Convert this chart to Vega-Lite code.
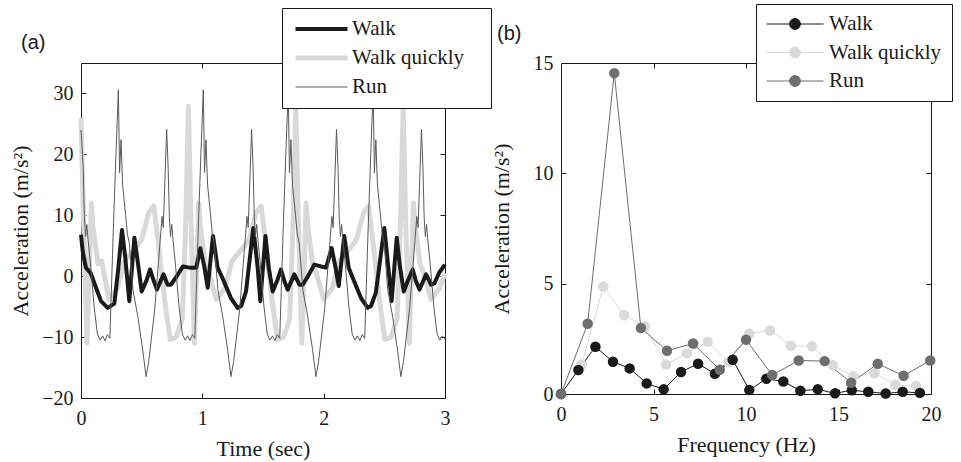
{
  "$schema": "https://vega.github.io/schema/vega-lite/v6.json",
  "background": "white",
  "padding": {"left": 9, "top": 3, "right": 0, "bottom": 5},
  "bounds": "flush",
  "spacing": 116,
  "config": {
    "view": {"stroke": null},
    "axis": {
      "labelFont": "Liberation Serif", "labelFontSize": 20, "labelColor": "#1a1a1a",
      "titleFont": "Liberation Serif", "titleFontSize": 22, "titleFontWeight": "normal", "titleColor": "#1a1a1a",
      "domainColor": "#1a1a1a", "tickColor": "#1a1a1a", "grid": false, "tickSize": -5,
      "labelFlush": false, "labelOverlap": false
    },
    "axisX": {"labelPadding": 15, "titlePadding": 10},
    "axisY": {"labelPadding": 13, "titlePadding": 9},
    "title": {"font": "Liberation Sans", "fontSize": 20, "fontWeight": "normal", "anchor": "start", "frame": "group", "color": "#1a1a1a"}
  },
  "resolve": {"scale": {"color": "independent", "strokeWidth": "independent", "stroke": "independent", "fill": "independent"}, "legend": {"color": "independent", "strokeWidth": "independent", "stroke": "independent", "fill": "independent"}},
  "datasets": {
    "ts": [
      {"s": "Walk", "t": 0, "a": 6.8}, {"s": "Walk", "t": 0.014, "a": 4.1}, {"s": "Walk", "t": 0.04, "a": 1.4}, {"s": "Walk", "t": 0.08, "a": 0.5},
      {"s": "Walk", "t": 0.124, "a": -1.9}, {"s": "Walk", "t": 0.165, "a": -4.1}, {"s": "Walk", "t": 0.22, "a": -5.2}, {"s": "Walk", "t": 0.275, "a": -4.5},
      {"s": "Walk", "t": 0.308, "a": 1.4}, {"s": "Walk", "t": 0.338, "a": 7.6}, {"s": "Walk", "t": 0.365, "a": 3.0}, {"s": "Walk", "t": 0.398, "a": -4.1},
      {"s": "Walk", "t": 0.44, "a": 6.3}, {"s": "Walk", "t": 0.467, "a": 2.5}, {"s": "Walk", "t": 0.5, "a": -2.5}, {"s": "Walk", "t": 0.538, "a": -0.8},
      {"s": "Walk", "t": 0.569, "a": 1.1}, {"s": "Walk", "t": 0.6, "a": -0.8}, {"s": "Walk", "t": 0.626, "a": -2.2}, {"s": "Walk", "t": 0.68, "a": 0.3},
      {"s": "Walk", "t": 0.714, "a": -1.4}, {"s": "Walk", "t": 0.74, "a": -1.4}, {"s": "Walk", "t": 0.78, "a": -0.3}, {"s": "Walk", "t": 0.84, "a": 1.6},
      {"s": "Walk", "t": 0.896, "a": 1.4}, {"s": "Walk", "t": 0.95, "a": 1.4}, {"s": "Walk", "t": 0.983, "a": 4.6}, {"s": "Walk", "t": 1.016, "a": 1.6},
      {"s": "Walk", "t": 1.044, "a": -1.9}, {"s": "Walk", "t": 1.088, "a": 6.6}, {"s": "Walk", "t": 1.126, "a": 1.4}, {"s": "Walk", "t": 1.166, "a": -0.3},
      {"s": "Walk", "t": 1.236, "a": -3.6}, {"s": "Walk", "t": 1.29, "a": -5.2}, {"s": "Walk", "t": 1.32, "a": -4.9}, {"s": "Walk", "t": 1.36, "a": -2.5},
      {"s": "Walk", "t": 1.42, "a": 7.9}, {"s": "Walk", "t": 1.456, "a": 1.4}, {"s": "Walk", "t": 1.478, "a": -4.1}, {"s": "Walk", "t": 1.52, "a": 6.6},
      {"s": "Walk", "t": 1.547, "a": 1.4}, {"s": "Walk", "t": 1.58, "a": -2.5}, {"s": "Walk", "t": 1.616, "a": -0.8}, {"s": "Walk", "t": 1.648, "a": 1.1},
      {"s": "Walk", "t": 1.676, "a": -0.8}, {"s": "Walk", "t": 1.703, "a": -2.2}, {"s": "Walk", "t": 1.758, "a": 0.3}, {"s": "Walk", "t": 1.8, "a": -1.4},
      {"s": "Walk", "t": 1.827, "a": -1.4}, {"s": "Walk", "t": 1.868, "a": -0.1}, {"s": "Walk", "t": 1.923, "a": 1.9}, {"s": "Walk", "t": 1.978, "a": 1.6},
      {"s": "Walk", "t": 2.02, "a": 1.4}, {"s": "Walk", "t": 2.066, "a": 4.6}, {"s": "Walk", "t": 2.096, "a": 1.6}, {"s": "Walk", "t": 2.124, "a": -1.6},
      {"s": "Walk", "t": 2.17, "a": 6.6}, {"s": "Walk", "t": 2.206, "a": 1.4}, {"s": "Walk", "t": 2.24, "a": -0.3}, {"s": "Walk", "t": 2.308, "a": -3.6},
      {"s": "Walk", "t": 2.363, "a": -5.2}, {"s": "Walk", "t": 2.39, "a": -4.9}, {"s": "Walk", "t": 2.43, "a": -2.7}, {"s": "Walk", "t": 2.5, "a": 7.9},
      {"s": "Walk", "t": 2.533, "a": 1.4}, {"s": "Walk", "t": 2.56, "a": -4.1}, {"s": "Walk", "t": 2.602, "a": 6.3}, {"s": "Walk", "t": 2.63, "a": 1.4},
      {"s": "Walk", "t": 2.66, "a": -2.5}, {"s": "Walk", "t": 2.693, "a": -0.8}, {"s": "Walk", "t": 2.734, "a": 1.1}, {"s": "Walk", "t": 2.76, "a": -0.8},
      {"s": "Walk", "t": 2.79, "a": -2.2}, {"s": "Walk", "t": 2.844, "a": 0.3}, {"s": "Walk", "t": 2.885, "a": -1.4}, {"s": "Walk", "t": 2.912, "a": -1.2},
      {"s": "Walk", "t": 2.953, "a": 0.6}, {"s": "Walk", "t": 3.0, "a": 1.9},

      {"s": "Walk quickly", "t": 0, "a": 26}, {"s": "Walk quickly", "t": 0.02, "a": 10}, {"s": "Walk quickly", "t": 0.05, "a": -11}, {"s": "Walk quickly", "t": 0.075, "a": 5},
      {"s": "Walk quickly", "t": 0.085, "a": 12}, {"s": "Walk quickly", "t": 0.1, "a": 8}, {"s": "Walk quickly", "t": 0.14, "a": 2}, {"s": "Walk quickly", "t": 0.17, "a": 2.5},
      {"s": "Walk quickly", "t": 0.23, "a": -3.8}, {"s": "Walk quickly", "t": 0.3, "a": -2}, {"s": "Walk quickly", "t": 0.36, "a": 2.5}, {"s": "Walk quickly", "t": 0.44, "a": 4.4},
      {"s": "Walk quickly", "t": 0.5, "a": 6}, {"s": "Walk quickly", "t": 0.56, "a": 10.5}, {"s": "Walk quickly", "t": 0.6, "a": 11.5}, {"s": "Walk quickly", "t": 0.64, "a": 5},
      {"s": "Walk quickly", "t": 0.69, "a": -4}, {"s": "Walk quickly", "t": 0.735, "a": -10.4}, {"s": "Walk quickly", "t": 0.785, "a": -10}, {"s": "Walk quickly", "t": 0.835, "a": -7},
      {"s": "Walk quickly", "t": 0.865, "a": 10}, {"s": "Walk quickly", "t": 0.885, "a": 27.9}, {"s": "Walk quickly", "t": 0.905, "a": 10}, {"s": "Walk quickly", "t": 0.935, "a": -11},
      {"s": "Walk quickly", "t": 0.96, "a": 5}, {"s": "Walk quickly", "t": 0.97, "a": 12}, {"s": "Walk quickly", "t": 0.985, "a": 8}, {"s": "Walk quickly", "t": 1.025, "a": 2},
      {"s": "Walk quickly", "t": 1.055, "a": 0.5}, {"s": "Walk quickly", "t": 1.115, "a": -3.8}, {"s": "Walk quickly", "t": 1.185, "a": -2}, {"s": "Walk quickly", "t": 1.245, "a": 2.5},
      {"s": "Walk quickly", "t": 1.325, "a": 4.4}, {"s": "Walk quickly", "t": 1.385, "a": 6}, {"s": "Walk quickly", "t": 1.445, "a": 10.5}, {"s": "Walk quickly", "t": 1.485, "a": 11.5},
      {"s": "Walk quickly", "t": 1.525, "a": 5}, {"s": "Walk quickly", "t": 1.575, "a": -4}, {"s": "Walk quickly", "t": 1.62, "a": -10.4}, {"s": "Walk quickly", "t": 1.67, "a": -10},
      {"s": "Walk quickly", "t": 1.72, "a": -7}, {"s": "Walk quickly", "t": 1.75, "a": 10}, {"s": "Walk quickly", "t": 1.77, "a": 27.9}, {"s": "Walk quickly", "t": 1.79, "a": 10},
      {"s": "Walk quickly", "t": 1.82, "a": -11}, {"s": "Walk quickly", "t": 1.845, "a": 5}, {"s": "Walk quickly", "t": 1.855, "a": 12}, {"s": "Walk quickly", "t": 1.87, "a": 8},
      {"s": "Walk quickly", "t": 1.91, "a": 2}, {"s": "Walk quickly", "t": 1.94, "a": 0.5}, {"s": "Walk quickly", "t": 2.0, "a": -3.8}, {"s": "Walk quickly", "t": 2.07, "a": -2},
      {"s": "Walk quickly", "t": 2.13, "a": 2.5}, {"s": "Walk quickly", "t": 2.21, "a": 4.4}, {"s": "Walk quickly", "t": 2.27, "a": 6}, {"s": "Walk quickly", "t": 2.33, "a": 10.5},
      {"s": "Walk quickly", "t": 2.37, "a": 11.5}, {"s": "Walk quickly", "t": 2.41, "a": 5}, {"s": "Walk quickly", "t": 2.46, "a": -4}, {"s": "Walk quickly", "t": 2.505, "a": -10.4},
      {"s": "Walk quickly", "t": 2.555, "a": -10}, {"s": "Walk quickly", "t": 2.605, "a": -7}, {"s": "Walk quickly", "t": 2.635, "a": 10}, {"s": "Walk quickly", "t": 2.655, "a": 27.9},
      {"s": "Walk quickly", "t": 2.675, "a": 10}, {"s": "Walk quickly", "t": 2.705, "a": -11}, {"s": "Walk quickly", "t": 2.73, "a": 5}, {"s": "Walk quickly", "t": 2.74, "a": 12},
      {"s": "Walk quickly", "t": 2.755, "a": 8}, {"s": "Walk quickly", "t": 2.795, "a": 2}, {"s": "Walk quickly", "t": 2.825, "a": 0.5}, {"s": "Walk quickly", "t": 2.885, "a": -3.8},
      {"s": "Walk quickly", "t": 2.955, "a": -2}, {"s": "Walk quickly", "t": 3.0, "a": 0.5},

      {"s": "Run", "t": 0, "a": 24.0}, {"s": "Run", "t": 0.018, "a": 18}, {"s": "Run", "t": 0.028, "a": 9.8}, {"s": "Run", "t": 0.038, "a": 6.5},
      {"s": "Run", "t": 0.048, "a": 8.5}, {"s": "Run", "t": 0.058, "a": 6}, {"s": "Run", "t": 0.078, "a": 2}, {"s": "Run", "t": 0.108, "a": -5},
      {"s": "Run", "t": 0.135, "a": -9.5}, {"s": "Run", "t": 0.158, "a": -10.5}, {"s": "Run", "t": 0.178, "a": -9.8}, {"s": "Run", "t": 0.198, "a": -10.6},
      {"s": "Run", "t": 0.218, "a": -9.6}, {"s": "Run", "t": 0.238, "a": -10.2}, {"s": "Run", "t": 0.268, "a": 8.7}, {"s": "Run", "t": 0.288, "a": 20},
      {"s": "Run", "t": 0.308, "a": 30.6}, {"s": "Run", "t": 0.318, "a": 17}, {"s": "Run", "t": 0.33, "a": 22.4}, {"s": "Run", "t": 0.343, "a": 15},
      {"s": "Run", "t": 0.368, "a": 10}, {"s": "Run", "t": 0.383, "a": 6.8}, {"s": "Run", "t": 0.398, "a": 5.5}, {"s": "Run", "t": 0.428, "a": -2.2},
      {"s": "Run", "t": 0.468, "a": -6.6}, {"s": "Run", "t": 0.508, "a": -12}, {"s": "Run", "t": 0.536, "a": -16.5}, {"s": "Run", "t": 0.558, "a": -14},
      {"s": "Run", "t": 0.608, "a": -5.4}, {"s": "Run", "t": 0.638, "a": 2.2}, {"s": "Run", "t": 0.668, "a": 9.8}, {"s": "Run", "t": 0.678, "a": 8},
      {"s": "Run", "t": 0.706, "a": 24.1}, {"s": "Run", "t": 0.718, "a": 18}, {"s": "Run", "t": 0.728, "a": 9.8}, {"s": "Run", "t": 0.738, "a": 6.5},
      {"s": "Run", "t": 0.748, "a": 8.5}, {"s": "Run", "t": 0.758, "a": 6}, {"s": "Run", "t": 0.778, "a": 2}, {"s": "Run", "t": 0.808, "a": -5},
      {"s": "Run", "t": 0.835, "a": -9.5}, {"s": "Run", "t": 0.858, "a": -10.5}, {"s": "Run", "t": 0.878, "a": -9.8}, {"s": "Run", "t": 0.898, "a": -10.6},
      {"s": "Run", "t": 0.918, "a": -9.6}, {"s": "Run", "t": 0.938, "a": -10.2}, {"s": "Run", "t": 0.968, "a": 8.7}, {"s": "Run", "t": 0.988, "a": 20},
      {"s": "Run", "t": 1.008, "a": 30.6}, {"s": "Run", "t": 1.018, "a": 17}, {"s": "Run", "t": 1.03, "a": 22.4}, {"s": "Run", "t": 1.043, "a": 15},
      {"s": "Run", "t": 1.068, "a": 10}, {"s": "Run", "t": 1.083, "a": 6.8}, {"s": "Run", "t": 1.098, "a": 5.5}, {"s": "Run", "t": 1.128, "a": -2.2},
      {"s": "Run", "t": 1.168, "a": -6.6}, {"s": "Run", "t": 1.208, "a": -12}, {"s": "Run", "t": 1.236, "a": -16.5}, {"s": "Run", "t": 1.258, "a": -14},
      {"s": "Run", "t": 1.308, "a": -5.4}, {"s": "Run", "t": 1.338, "a": 2.2}, {"s": "Run", "t": 1.368, "a": 9.8}, {"s": "Run", "t": 1.378, "a": 8},
      {"s": "Run", "t": 1.406, "a": 24.1}, {"s": "Run", "t": 1.418, "a": 18}, {"s": "Run", "t": 1.428, "a": 9.8}, {"s": "Run", "t": 1.438, "a": 6.5},
      {"s": "Run", "t": 1.448, "a": 8.5}, {"s": "Run", "t": 1.458, "a": 6}, {"s": "Run", "t": 1.478, "a": 2}, {"s": "Run", "t": 1.508, "a": -5},
      {"s": "Run", "t": 1.535, "a": -9.5}, {"s": "Run", "t": 1.558, "a": -10.5}, {"s": "Run", "t": 1.578, "a": -9.8}, {"s": "Run", "t": 1.598, "a": -10.6},
      {"s": "Run", "t": 1.618, "a": -9.6}, {"s": "Run", "t": 1.638, "a": -10.2}, {"s": "Run", "t": 1.668, "a": 8.7}, {"s": "Run", "t": 1.688, "a": 20},
      {"s": "Run", "t": 1.708, "a": 30.6}, {"s": "Run", "t": 1.718, "a": 17}, {"s": "Run", "t": 1.73, "a": 22.4}, {"s": "Run", "t": 1.743, "a": 15},
      {"s": "Run", "t": 1.768, "a": 10}, {"s": "Run", "t": 1.783, "a": 6.8}, {"s": "Run", "t": 1.798, "a": 5.5}, {"s": "Run", "t": 1.828, "a": -2.2},
      {"s": "Run", "t": 1.868, "a": -6.6}, {"s": "Run", "t": 1.908, "a": -12}, {"s": "Run", "t": 1.936, "a": -16.5}, {"s": "Run", "t": 1.958, "a": -14},
      {"s": "Run", "t": 2.008, "a": -5.4}, {"s": "Run", "t": 2.038, "a": 2.2}, {"s": "Run", "t": 2.068, "a": 9.8}, {"s": "Run", "t": 2.078, "a": 8},
      {"s": "Run", "t": 2.106, "a": 24.1}, {"s": "Run", "t": 2.118, "a": 18}, {"s": "Run", "t": 2.128, "a": 9.8}, {"s": "Run", "t": 2.138, "a": 6.5},
      {"s": "Run", "t": 2.148, "a": 8.5}, {"s": "Run", "t": 2.158, "a": 6}, {"s": "Run", "t": 2.178, "a": 2}, {"s": "Run", "t": 2.208, "a": -5},
      {"s": "Run", "t": 2.235, "a": -9.5}, {"s": "Run", "t": 2.258, "a": -10.5}, {"s": "Run", "t": 2.278, "a": -9.8}, {"s": "Run", "t": 2.298, "a": -10.6},
      {"s": "Run", "t": 2.318, "a": -9.6}, {"s": "Run", "t": 2.338, "a": -10.2}, {"s": "Run", "t": 2.368, "a": 8.7}, {"s": "Run", "t": 2.388, "a": 20},
      {"s": "Run", "t": 2.408, "a": 30.6}, {"s": "Run", "t": 2.418, "a": 17}, {"s": "Run", "t": 2.43, "a": 22.4}, {"s": "Run", "t": 2.443, "a": 15},
      {"s": "Run", "t": 2.468, "a": 10}, {"s": "Run", "t": 2.483, "a": 6.8}, {"s": "Run", "t": 2.498, "a": 5.5}, {"s": "Run", "t": 2.528, "a": -2.2},
      {"s": "Run", "t": 2.568, "a": -6.6}, {"s": "Run", "t": 2.608, "a": -12}, {"s": "Run", "t": 2.636, "a": -16.5}, {"s": "Run", "t": 2.658, "a": -14},
      {"s": "Run", "t": 2.708, "a": -5.4}, {"s": "Run", "t": 2.738, "a": 2.2}, {"s": "Run", "t": 2.768, "a": 9.8}, {"s": "Run", "t": 2.778, "a": 8},
      {"s": "Run", "t": 2.806, "a": 24.1}, {"s": "Run", "t": 2.818, "a": 18}, {"s": "Run", "t": 2.828, "a": 9.8}, {"s": "Run", "t": 2.838, "a": 6.5},
      {"s": "Run", "t": 2.848, "a": 8.5}, {"s": "Run", "t": 2.858, "a": 6}, {"s": "Run", "t": 2.878, "a": 2}, {"s": "Run", "t": 2.908, "a": -5},
      {"s": "Run", "t": 2.935, "a": -9.5}, {"s": "Run", "t": 2.958, "a": -10.5}, {"s": "Run", "t": 2.978, "a": -9.8}, {"s": "Run", "t": 3.0, "a": -10.4}
    ],
    "fft": [
      {"s": "Walk quickly", "f": 0, "a": 0}, {"s": "Walk quickly", "f": 1.12, "a": 1.34}, {"s": "Walk quickly", "f": 2.29, "a": 4.87}, {"s": "Walk quickly", "f": 3.42, "a": 3.57},
      {"s": "Walk quickly", "f": 4.54, "a": 3.06}, {"s": "Walk quickly", "f": 5.68, "a": 1.34}, {"s": "Walk quickly", "f": 6.81, "a": 1.84}, {"s": "Walk quickly", "f": 7.93, "a": 2.37},
      {"s": "Walk quickly", "f": 9.06, "a": 1.45}, {"s": "Walk quickly", "f": 10.18, "a": 2.73}, {"s": "Walk quickly", "f": 11.3, "a": 2.88}, {"s": "Walk quickly", "f": 12.43, "a": 2.19},
      {"s": "Walk quickly", "f": 13.57, "a": 2.16}, {"s": "Walk quickly", "f": 14.69, "a": 1.3}, {"s": "Walk quickly", "f": 15.8, "a": 0.8}, {"s": "Walk quickly", "f": 16.94, "a": 0.94},
      {"s": "Walk quickly", "f": 18.07, "a": 0.42}, {"s": "Walk quickly", "f": 19.19, "a": 0.36},
      {"s": "Walk", "f": 0, "a": 0}, {"s": "Walk", "f": 0.94, "a": 1.09}, {"s": "Walk", "f": 1.86, "a": 2.14}, {"s": "Walk", "f": 2.81, "a": 1.46},
      {"s": "Walk", "f": 3.71, "a": 1.16}, {"s": "Walk", "f": 4.63, "a": 0.48}, {"s": "Walk", "f": 5.55, "a": 0.21}, {"s": "Walk", "f": 6.49, "a": 1.0},
      {"s": "Walk", "f": 7.41, "a": 1.37}, {"s": "Walk", "f": 8.32, "a": 0.92}, {"s": "Walk", "f": 9.28, "a": 1.55}, {"s": "Walk", "f": 10.18, "a": 0.18},
      {"s": "Walk", "f": 11.1, "a": 0.69}, {"s": "Walk", "f": 12.02, "a": 0.57}, {"s": "Walk", "f": 12.94, "a": 0.15}, {"s": "Walk", "f": 13.88, "a": 0.21},
      {"s": "Walk", "f": 14.81, "a": 0.03}, {"s": "Walk", "f": 15.72, "a": 0.17}, {"s": "Walk", "f": 16.61, "a": 0.1}, {"s": "Walk", "f": 17.55, "a": 0.02},
      {"s": "Walk", "f": 18.47, "a": 0.1}, {"s": "Walk", "f": 19.4, "a": 0.05},
      {"s": "Run", "f": 0, "a": 0}, {"s": "Run", "f": 1.44, "a": 3.18}, {"s": "Run", "f": 2.88, "a": 14.54}, {"s": "Run", "f": 4.32, "a": 2.99},
      {"s": "Run", "f": 5.73, "a": 1.96}, {"s": "Run", "f": 7.14, "a": 2.29}, {"s": "Run", "f": 8.58, "a": 1.1}, {"s": "Run", "f": 10.0, "a": 2.46},
      {"s": "Run", "f": 11.42, "a": 0.86}, {"s": "Run", "f": 12.85, "a": 1.52}, {"s": "Run", "f": 14.25, "a": 1.49}, {"s": "Run", "f": 15.68, "a": 0.51},
      {"s": "Run", "f": 17.12, "a": 1.37}, {"s": "Run", "f": 18.52, "a": 0.83}, {"s": "Run", "f": 19.96, "a": 1.52}
    ]
  },
  "hconcat": [
    {
      "width": 364, "height": 335,
      "title": {"text": "(a)", "dx": -60, "offset": -45},
      "data": {"name": "ts"},
      "resolve": {"axis": {"x": "independent", "y": "independent"}},
      "encoding": {
        "color": {"field": "s", "type": "nominal",
          "scale": {"domain": ["Walk", "Walk quickly", "Run"], "range": ["#1a1a1a", "#d9d9d9", "#5a5a5a"]},
          "legend": {"orient": "none", "legendX": 201, "legendY": -55, "title": null, "symbolType": "M-1,0L1,0", "symbolSize": 2704, "clipHeight": 20,
            "labelFont": "Liberation Serif", "labelFontSize": 21, "labelColor": "#1a1a1a", "labelOffset": 2, "padding": 11,
            "labelExpr": "datum.label + '\u2800'",
            "strokeColor": "#1a1a1a", "fillColor": "white", "rowPadding": 8}},
        "strokeWidth": {"field": "s", "type": "nominal",
          "scale": {"type": "ordinal", "domain": ["Walk", "Walk quickly", "Run"], "range": [4, 5, 1]},
          "legend": {"orient": "none", "legendX": 201, "legendY": -55, "title": null, "symbolType": "M-1,0L1,0", "symbolSize": 2704, "clipHeight": 20,
            "labelFont": "Liberation Serif", "labelFontSize": 21, "labelColor": "#1a1a1a", "labelOffset": 2, "padding": 11,
            "labelExpr": "datum.label + '\u2800'",
            "strokeColor": "#1a1a1a", "fillColor": "white", "rowPadding": 8}}
      },
      "layer": [
        {
          "transform": [{"filter": "datum.s === 'Walk quickly'"}],
          "mark": {"type": "line", "strokeJoin": "round"},
          "encoding": {
            "x": {"field": "t", "type": "quantitative", "scale": {"domain": [0, 3], "nice": false},
              "axis": {"title": "Time (sec)", "values": [0, 1, 2, 3]}},
            "y": {"field": "a", "type": "quantitative", "scale": {"domain": [-20, 35], "nice": false, "zero": false},
              "axis": {"title": "Acceleration (m/s²)", "values": [-20, -10, 0, 10, 20, 30]}}
          }
        },
        {
          "transform": [{"filter": "datum.s === 'Walk'"}],
          "mark": {"type": "line", "strokeJoin": "round"},
          "encoding": {
            "x": {"field": "t", "type": "quantitative", "axis": null},
            "y": {"field": "a", "type": "quantitative", "axis": null}
          }
        },
        {
          "transform": [{"filter": "datum.s === 'Run'"}],
          "mark": {"type": "line"},
          "encoding": {
            "x": {"field": "t", "type": "quantitative", "axis": {"orient": "top", "labels": false, "title": null, "values": [0, 1, 2, 3]}},
            "y": {"field": "a", "type": "quantitative", "axis": {"orient": "right", "labels": false, "title": null, "values": [-20, -10, 0, 10, 20, 30]}}
          }
        }
      ]
    },
    {
      "width": 370, "height": 331,
      "title": {"text": "(b)", "dx": -64, "offset": -40},
      "data": {"name": "fft"},
      "resolve": {"axis": {"x": "independent", "y": "independent"}},
      "layer": [
        {
          "mark": {"type": "line", "strokeWidth": 1},
          "encoding": {
            "x": {"field": "f", "type": "quantitative", "scale": {"domain": [0, 20], "nice": false},
              "axis": {"title": "Frequency (Hz)", "values": [0, 5, 10, 15, 20]}},
            "y": {"field": "a", "type": "quantitative", "scale": {"domain": [0, 15], "nice": false},
              "axis": {"title": "Acceleration (m/s²)", "values": [0, 5, 10, 15], "titlePadding": 20}},
            "stroke": {"field": "s", "type": "nominal",
              "scale": {"domain": ["Walk", "Walk quickly", "Run"], "range": ["#1a1a1a", "#dadada", "#6e6e6e"]},
              "legend": {"orient": "none", "legendX": 195, "legendY": -59, "title": null,
                "symbolType": "M-1,0L1,0M0.19,0A0.19,0.19,0,1,1,-0.19,0A0.19,0.19,0,1,1,0.19,0Z",
                "symbolSize": 3249, "symbolStrokeWidth": 1, "clipHeight": 20,
                "labelFont": "Liberation Serif", "labelFontSize": 21, "labelColor": "#1a1a1a", "labelOffset": 5, "padding": 10,
                "strokeColor": "#1a1a1a", "fillColor": "white", "rowPadding": 7.5}}
          }
        },
        {
          "mark": {"type": "point", "filled": true, "size": 110, "opacity": 1, "strokeWidth": 0},
          "encoding": {
            "x": {"field": "f", "type": "quantitative", "axis": {"orient": "top", "labels": false, "title": null, "values": [0, 5, 10, 15, 20]}},
            "y": {"field": "a", "type": "quantitative", "axis": {"orient": "right", "labels": false, "title": null, "values": [0, 5, 10, 15]}},
            "fill": {"field": "s", "type": "nominal",
              "scale": {"domain": ["Walk", "Walk quickly", "Run"], "range": ["#1a1a1a", "#dadada", "#6e6e6e"]},
              "legend": {"orient": "none", "legendX": 195, "legendY": -59, "title": null,
                "symbolType": "M-1,0L1,0M0.19,0A0.19,0.19,0,1,1,-0.19,0A0.19,0.19,0,1,1,0.19,0Z",
                "symbolSize": 3249, "symbolStrokeWidth": 1, "clipHeight": 20,
                "labelFont": "Liberation Serif", "labelFontSize": 21, "labelColor": "#1a1a1a", "labelOffset": 5, "padding": 10,
                "strokeColor": "#1a1a1a", "fillColor": "white", "rowPadding": 7.5}}
          }
        }
      ]
    }
  ]
}
